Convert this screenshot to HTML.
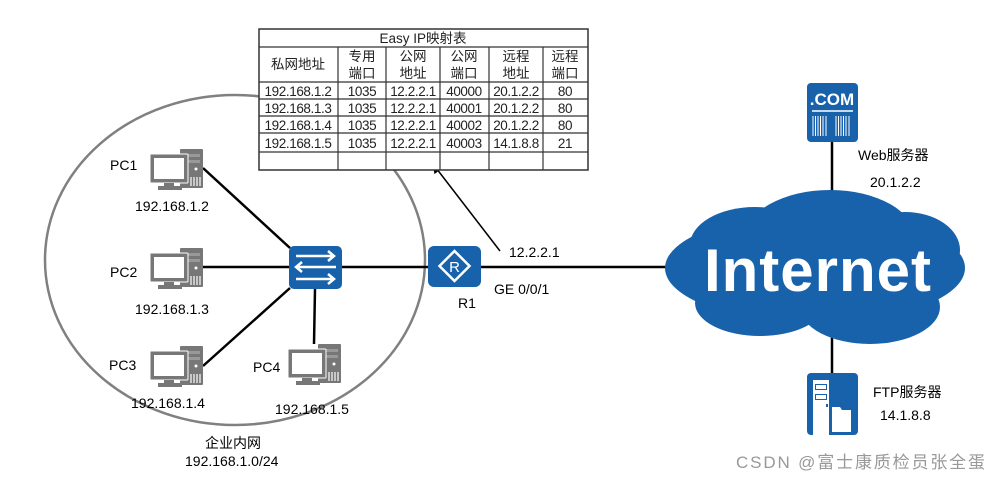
<!DOCTYPE html>
<html><head><meta charset="utf-8"><style>
body{margin:0;background:#fff;}
svg text{font-family:"Liberation Sans","Noto Sans CJK SC",sans-serif;}
</style></head><body>
<svg width="1002" height="481" viewBox="0 0 1002 481" xmlns="http://www.w3.org/2000/svg">
<defs>
<g id="pc">
<rect x="30" y="0" width="23" height="39" rx="1" fill="#777"/>
<rect x="34" y="5" width="16" height="3" fill="#999"/>
<rect x="34" y="11" width="16" height="3" fill="#999"/>
<circle cx="46" cy="20" r="1.5" fill="#fff"/>
<path d="M41 28v9M44 28v9M47 28v9M50 28v9" stroke="#fff" stroke-width="1.2"/>
<rect x="0" y="5" width="38" height="29" rx="1" fill="#777" stroke="#fff" stroke-width="1"/>
<rect x="4" y="9" width="30" height="21" fill="#fff"/>
<rect x="14" y="34" width="10" height="3" fill="#777"/>
<rect x="8" y="37" width="24" height="4" fill="#777"/>
</g>
<marker id="ah" markerWidth="10" markerHeight="10" refX="9" refY="5" orient="auto" markerUnits="userSpaceOnUse">
<path d="M0 0L10 5L0 10z" fill="#000"/>
</marker>
</defs>
<ellipse cx="235" cy="260" rx="190" ry="165" fill="none" stroke="#808080" stroke-width="2.5"/>
<g stroke="#000" stroke-width="2.5">
<line x1="203" y1="168" x2="290" y2="248"/>
<line x1="203" y1="267" x2="290" y2="267"/>
<line x1="203" y1="366" x2="290" y2="288"/>
<line x1="315" y1="289" x2="314" y2="344"/>
<line x1="342" y1="267" x2="428" y2="267"/>
<line x1="481" y1="267" x2="670" y2="267"/>
<line x1="832" y1="142" x2="832" y2="200"/>
<line x1="832" y1="335" x2="832" y2="373"/>
</g>
<line x1="500" y1="251" x2="433" y2="164" stroke="#000" stroke-width="1.5" marker-end="url(#ah)"/>
<g>
<rect x="259" y="29" width="329" height="141" fill="#fff" stroke="#333" stroke-width="1.5"/>
<g stroke="#333" stroke-width="1.2">
<line x1="259" y1="47" x2="588" y2="47"/>
<line x1="259" y1="82" x2="588" y2="82"/>
<line x1="259" y1="99" x2="588" y2="99"/>
<line x1="259" y1="116" x2="588" y2="116"/>
<line x1="259" y1="133" x2="588" y2="133"/>
<line x1="259" y1="152" x2="588" y2="152"/>
<line x1="338" y1="47" x2="338" y2="170"/>
<line x1="386" y1="47" x2="386" y2="170"/>
<line x1="440" y1="47" x2="440" y2="170"/>
<line x1="489" y1="47" x2="489" y2="170"/>
<line x1="543" y1="47" x2="543" y2="170"/>
</g>
<g font-size="13.5" fill="#222" text-anchor="middle">
<text x="423" y="43">Easy IP映射表</text>
<text x="298" y="69">私网地址</text>
<text x="362" y="61">专用</text><text x="362" y="78">端口</text>
<text x="413" y="61">公网</text><text x="413" y="78">地址</text>
<text x="464" y="61">公网</text><text x="464" y="78">端口</text>
<text x="516" y="61">远程</text><text x="516" y="78">地址</text>
<text x="565" y="61">远程</text><text x="565" y="78">端口</text>
</g>
<g font-size="13.5" fill="#222" text-anchor="middle" letter-spacing="-0.4">
<text x="298" y="96">192.168.1.2</text><text x="362" y="96">1035</text><text x="413" y="96">12.2.2.1</text><text x="464" y="96">40000</text><text x="516" y="96">20.1.2.2</text><text x="565" y="96">80</text>
<text x="298" y="113">192.168.1.3</text><text x="362" y="113">1035</text><text x="413" y="113">12.2.2.1</text><text x="464" y="113">40001</text><text x="516" y="113">20.1.2.2</text><text x="565" y="113">80</text>
<text x="298" y="130">192.168.1.4</text><text x="362" y="130">1035</text><text x="413" y="130">12.2.2.1</text><text x="464" y="130">40002</text><text x="516" y="130">20.1.2.2</text><text x="565" y="130">80</text>
<text x="298" y="148">192.168.1.5</text><text x="362" y="148">1035</text><text x="413" y="148">12.2.2.1</text><text x="464" y="148">40003</text><text x="516" y="148">14.1.8.8</text><text x="565" y="148">21</text>
</g>
</g>
<use href="#pc" x="150" y="149"/>
<use href="#pc" x="150" y="248"/>
<use href="#pc" x="150" y="346"/>
<use href="#pc" x="288" y="344"/>
<rect x="289" y="246" width="53" height="43" rx="5" fill="#1862ab"/>
<g stroke="#fff" stroke-width="2.5" fill="none">
<path d="M296 256h38M328 251l6 5-6 5"/>
<path d="M336 267h-38M302 262l-6 5 6 5"/>
<path d="M296 279h38M328 274l6 5-6 5"/>
</g>
<rect x="428" y="246" width="53" height="41" rx="6" fill="#1862ab"/>
<path d="M454.5 251l15 15-15 15-15-15z" fill="none" stroke="#fff" stroke-width="2.5"/>
<text x="454.5" y="272" font-size="15" fill="#fff" text-anchor="middle">R</text>
<g fill="#1862ab">
<ellipse cx="815" cy="268" rx="150" ry="55"/>
<ellipse cx="830" cy="238" rx="85" ry="48"/>
<ellipse cx="755" cy="245" rx="65" ry="38"/>
<ellipse cx="905" cy="250" rx="55" ry="38"/>
<ellipse cx="760" cy="303" rx="65" ry="33"/>
<ellipse cx="870" cy="307" rx="70" ry="37"/>
</g>
<text x="818" y="291" font-size="60" font-weight="bold" fill="#fff" text-anchor="middle" letter-spacing="1">Internet</text>
<rect x="807" y="83" width="51" height="59" rx="4" fill="#1862ab"/>
<text x="832" y="105" font-size="17" font-weight="bold" fill="#fff" text-anchor="middle">.COM</text>
<line x1="812" y1="111" x2="853" y2="111" stroke="#fff" stroke-width="1.5"/>
<path d="M813 116v20M815.5 116v20M818 116v20M820.5 116v20M823 116v20M826 116v20M836 116v20M838.5 116v20M841 116v20M843.5 116v20M846 116v20M849 116v20" stroke="#fff" stroke-width="1"/>
<rect x="807" y="373" width="51" height="62" rx="4" fill="#1862ab"/>
<rect x="813" y="380" width="16" height="55" fill="#fff"/>
<rect x="815" y="384" width="12" height="6" fill="#1862ab"/><rect x="816" y="385" width="10" height="4" fill="#fff"/>
<rect x="815" y="394" width="12" height="6" fill="#1862ab"/><rect x="816" y="395" width="10" height="4" fill="#fff"/>
<rect x="826" y="404" width="2" height="3" fill="#1862ab"/>
<path d="M832 407h8l2 3h9v22h-19z" fill="#fff"/>
<g font-size="14" fill="#000">
<text x="110" y="170">PC1</text>
<text x="135" y="211">192.168.1.2</text>
<text x="110" y="277">PC2</text>
<text x="135" y="314">192.168.1.3</text>
<text x="109" y="370">PC3</text>
<text x="131" y="408">192.168.1.4</text>
<text x="253" y="372">PC4</text>
<text x="275" y="414">192.168.1.5</text>
<text x="205" y="448">企业内网</text>
<text x="185" y="466">192.168.1.0/24</text>
<text x="458" y="308">R1</text>
<text x="509" y="257">12.2.2.1</text>
<text x="494" y="294">GE 0/0/1</text>
<text x="858" y="160">Web服务器</text>
<text x="870" y="187">20.1.2.2</text>
<text x="873" y="397">FTP服务器</text>
<text x="880" y="420">14.1.8.8</text>
</g>
<text x="736" y="468" font-size="17" fill="#999" textLength="249">CSDN @富士康质检员张全蛋</text>
</svg>
</body></html>
